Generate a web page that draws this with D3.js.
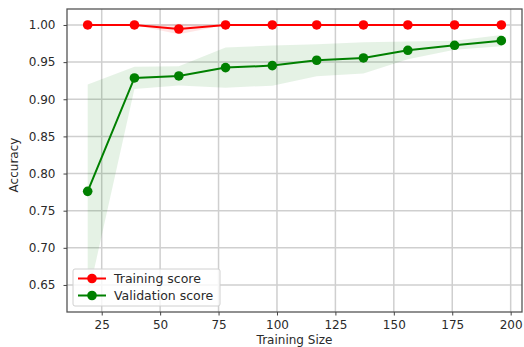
<!DOCTYPE html>
<html>
<head>
<meta charset="utf-8">
<script src="https://cdn.jsdelivr.net/npm/d3@7"></script>
<style>
  body { margin: 0; background: #fff; }
  svg { display: block; font-family: "DejaVu Sans", sans-serif; }
</style>
</head>
<body>
<svg></svg>
<script>
const sizes = [19, 39, 58, 78, 98, 117, 137, 156, 176, 196];
const trainMean = [1.0, 1.0, 0.9946, 1.0, 1.0, 1.0, 1.0, 1.0, 1.0, 1.0];
const trainStd = [0, 0, 0.007, 0, 0, 0, 0, 0, 0, 0];
const valMean = [0.776, 0.9287, 0.9314, 0.9426, 0.9453, 0.9525, 0.9556, 0.9659, 0.9726, 0.9789];
const valStd = [0.144, 0.015, 0.013, 0.027, 0.027, 0.0215, 0.021, 0.012, 0.006, 0.0075];
const xTicks = [25, 50, 75, 100, 125, 150, 175, 200];
const yTicks = [0.65, 0.70, 0.75, 0.80, 0.85, 0.90, 0.95, 1.00];

const width = 524, height = 347;
const plotLeft = 67, plotRight = 522, plotTop = 9, plotBottom = 312;

const svg = d3.select("svg").attr("width", width).attr("height", height);

const x = d3.scaleLinear().domain([10.15, 204.85]).range([plotLeft, plotRight]);
const y = d3.scaleLinear().domain([0.6136, 1.0215]).range([plotBottom, plotTop]);

// grid
svg.append("g").selectAll("line").data(xTicks).enter().append("line")
    .attr("x1", d => x(d)).attr("x2", d => x(d))
    .attr("y1", plotTop).attr("y2", plotBottom)
    .attr("stroke", "#cfcfcf").attr("stroke-width", 1.5);
svg.append("g").selectAll("line").data(yTicks).enter().append("line")
    .attr("x1", plotLeft).attr("x2", plotRight)
    .attr("y1", d => y(d)).attr("y2", d => y(d))
    .attr("stroke", "#cfcfcf").attr("stroke-width", 1.5);

const series = [
    { name: "Training score", mean: trainMean, std: trainStd, color: "red" },
    { name: "Validation score", mean: valMean, std: valStd, color: "green" }
];

const area = d3.area()
    .x((d, i) => x(sizes[i]))
    .y0(d => y(d[0] - d[1]))
    .y1(d => y(d[0] + d[1]));
const line = d3.line().x((d, i) => x(sizes[i])).y(d => y(d));

series.forEach(s => {
    const pairs = s.mean.map((m, i) => [m, s.std[i]]);
    svg.append("path")
        .attr("d", area(pairs))
        .attr("fill", s.color).attr("fill-opacity", 0.1);
});

series.forEach(s => {
    svg.append("path")
        .attr("d", line(s.mean))
        .attr("fill", "none").attr("stroke", s.color).attr("stroke-width", 2);
    svg.append("g").selectAll("circle").data(s.mean).enter().append("circle")
        .attr("cx", (d, i) => x(sizes[i]))
        .attr("cy", d => y(d))
        .attr("r", 4.8)
        .attr("fill", s.color);
});

// frame
svg.append("rect")
    .attr("x", plotLeft).attr("y", plotTop)
    .attr("width", plotRight - plotLeft).attr("height", plotBottom - plotTop)
    .attr("fill", "none").attr("stroke", "#555").attr("stroke-width", 1.3);

// axes
const xAxis = svg.append("g")
    .attr("transform", `translate(0,${plotBottom})`)
    .call(d3.axisBottom(x).tickValues(xTicks).tickSize(3.5).tickPadding(5).tickFormat(d3.format("d")));
const yAxis = svg.append("g")
    .attr("transform", `translate(${plotLeft},0)`)
    .call(d3.axisLeft(y).tickValues(yTicks).tickSize(3.5).tickPadding(8).tickFormat(d3.format(".2f")));
[xAxis, yAxis].forEach(a => {
    a.select(".domain").remove();
    a.selectAll("line").attr("stroke", "#444");
    a.selectAll("text").attr("font-size", 12).attr("fill", "#2a2a2a")
        .attr("font-family", "DejaVu Sans, sans-serif");
});

svg.append("text")
    .attr("x", 294.5).attr("y", 344)
    .attr("text-anchor", "middle")
    .attr("font-size", 12).attr("fill", "#2a2a2a")
    .text("Training Size");
svg.append("text")
    .attr("transform", "translate(18,165) rotate(-90)")
    .attr("text-anchor", "middle")
    .attr("font-size", 12).attr("fill", "#2a2a2a")
    .text("Accuracy");

// legend
const legend = svg.append("g").attr("transform", "translate(73,269)");
legend.append("rect")
    .attr("width", 147).attr("height", 37).attr("rx", 2)
    .attr("fill", "white").attr("fill-opacity", 0.8)
    .attr("stroke", "#d0d0d0");
series.forEach((s, i) => {
    const ly = 9.5 + i * 17;
    legend.append("line")
        .attr("x1", 5).attr("x2", 33).attr("y1", ly).attr("y2", ly)
        .attr("stroke", s.color).attr("stroke-width", 2);
    legend.append("circle").attr("cx", 19).attr("cy", ly).attr("r", 4.8).attr("fill", s.color);
    legend.append("text")
        .attr("x", 41).attr("y", ly + 4.5)
        .attr("font-size", 12.5).attr("fill", "#2a2a2a")
        .text(s.name);
});
</script>
</body>
</html>
